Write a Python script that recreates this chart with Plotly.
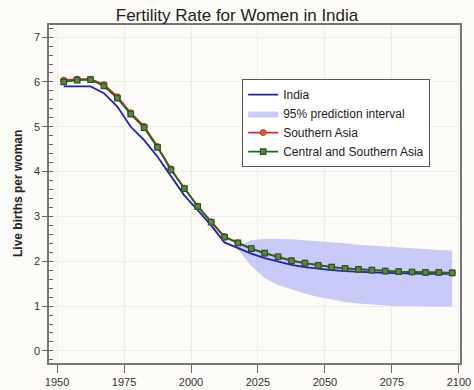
import plotly.graph_objects as go

years = [1952.5 + 5 * i for i in range(30)]

india = [5.90, 5.90, 5.90, 5.75, 5.45, 5.00, 4.70, 4.33, 3.90, 3.47,
         3.14, 2.80, 2.42, 2.29, 2.17, 2.07, 1.99, 1.92, 1.87, 1.83,
         1.80, 1.78, 1.76, 1.75, 1.74, 1.73, 1.73, 1.72, 1.72, 1.72]

southern_asia = [6.04, 6.06, 6.06, 5.94, 5.67, 5.31, 5.01, 4.56, 4.06, 3.63,
                 3.23, 2.88, 2.55, 2.41, 2.28, 2.18, 2.10, 2.02, 1.96, 1.91,
                 1.87, 1.84, 1.82, 1.80, 1.78, 1.77, 1.76, 1.75, 1.75, 1.74]

central_southern_asia = [6.00, 6.04, 6.05, 5.91, 5.64, 5.28, 4.98, 4.54, 4.04, 3.62,
                         3.22, 2.87, 2.54, 2.41, 2.28, 2.18, 2.10, 2.01, 1.96, 1.91,
                         1.87, 1.84, 1.82, 1.80, 1.78, 1.77, 1.76, 1.75, 1.75, 1.74]

band_years = [2017.5 + 5 * i for i in range(17)]
band_low = [2.26, 1.90, 1.62, 1.47, 1.37, 1.28, 1.20, 1.14, 1.09, 1.06,
            1.03, 1.01, 1.00, 1.00, 0.99, 0.99, 0.99]
band_high = [2.32, 2.47, 2.50, 2.50, 2.49, 2.47, 2.45, 2.42, 2.40, 2.37,
             2.35, 2.32, 2.30, 2.28, 2.27, 2.25, 2.24]

x_ticks = [1950, 1975, 2000, 2025, 2050, 2075, 2100]
y_ticks = [0, 1, 2, 3, 4, 5, 6, 7]

BG = "#fcfbf7"
fig = go.Figure()

fig.add_trace(go.Scatter(
    x=band_years + band_years[::-1], y=band_high + band_low[::-1],
    fill="toself", fillcolor="rgba(185,185,250,0.75)", line=dict(width=0),
    mode="lines", name="95% prediction interval", legendrank=2, hoverinfo="skip"))

fig.add_trace(go.Scatter(
    x=years, y=india, mode="lines", name="India",
    line=dict(color="#2020b8", width=1.8), legendrank=1))

fig.add_trace(go.Scatter(
    x=years, y=southern_asia, mode="lines+markers", name="Southern Asia",
    line=dict(color="#e02828", width=1.8),
    marker=dict(symbol="circle", size=6, color="#b07040", line=dict(color="#d03020", width=1)),
    legendrank=3))

fig.add_trace(go.Scatter(
    x=years, y=central_southern_asia, mode="lines+markers", name="Central and Southern Asia",
    line=dict(color="#1e6a1e", width=1.8),
    marker=dict(symbol="square", size=5.5, color="#6a8040", line=dict(color="#1e5a1e", width=1.2)),
    legendrank=4))

fig.update_layout(
    width=474, height=390,
    margin=dict(l=49, r=14, t=25, b=27, autoexpand=False),
    paper_bgcolor=BG, plot_bgcolor=BG,
    font=dict(family="Liberation Sans, Arial, sans-serif", color="#333333"),
    title=dict(text="Fertility Rate for Women in India", x=0.5, xanchor="center",
               y=0.962, yanchor="middle", font=dict(size=17, color="#222222")),
    showlegend=True,
    legend=dict(x=0.47, y=0.84, xanchor="left", yanchor="top",
                bgcolor="white", bordercolor="#555555", borderwidth=1,
                font=dict(size=12, color="#222222"), tracegroupgap=0,
                itemwidth=30),
    annotations=[dict(text="<b>Live births per woman</b>", xref="paper", yref="paper",
                      x=-0.0754, y=0.5, xanchor="center", yanchor="middle",
                      textangle=-90, showarrow=False,
                      font=dict(size=12, color="#222222"))],
)

fig.update_xaxes(
    range=[1947, 2100.4], tickvals=x_ticks, ticks="outside", ticklen=8,
    tickcolor="#666666", showline=True, linecolor="#777777", linewidth=1.5, mirror=True,
    showgrid=True, gridcolor="#ececec", gridwidth=1, zeroline=False, automargin=False,
    tickfont=dict(size=11, color="#333333"))

fig.update_yaxes(
    range=[-0.27, 7.27], tickvals=y_ticks, ticks="outside", ticklen=5,
    tickcolor="#666666", showline=True, linecolor="#777777", linewidth=1.5, mirror=True,
    showgrid=True, gridcolor="#ececec", gridwidth=1, zeroline=False, automargin=False,
    minor=dict(dtick=0.2, ticks="inside", ticklen=4, tickcolor="#666666", showgrid=False),
    tickfont=dict(size=11, color="#333333"))

fig.write_html("out.html", config={"displayModeBar": False},
               post_script="document.body.style.margin='0';document.body.style.background='%s';" % BG)
